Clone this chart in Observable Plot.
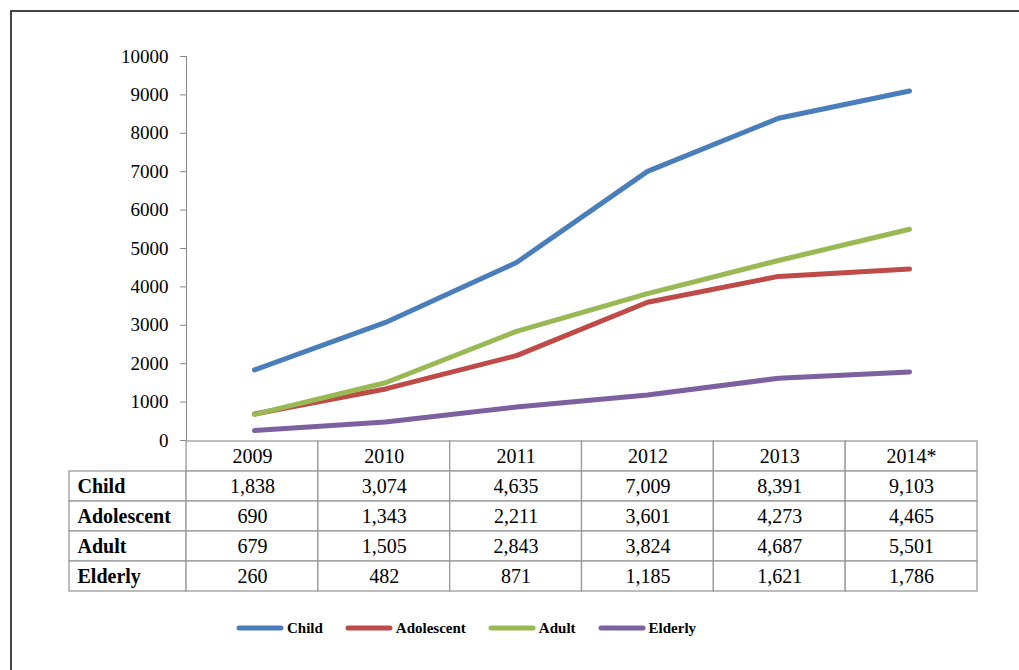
<!DOCTYPE html>
<html><head><meta charset="utf-8">
<script src="https://cdn.jsdelivr.net/npm/d3@7"></script>
<script src="https://cdn.jsdelivr.net/npm/@observablehq/plot@0.6"></script>
<style>
html,body{margin:0;padding:0;background:#fff;width:1019px;height:670px;overflow:hidden;position:relative;font-family:"Liberation Serif",serif;}
#frame{position:absolute;left:10px;top:10px;width:2000px;height:2000px;border-left:2px solid #444;border-top:2px solid #444;}
#chart{position:absolute;left:0;top:0;}
#table{position:absolute;left:0;top:430px;}
#legend{position:absolute;left:235px;top:618px;display:flex;align-items:center;font-weight:bold;font-size:15px;line-height:20px;color:#000;}
#legend .item{display:flex;align-items:center;margin-right:21px;}
#legend svg{margin-right:2px;}
</style></head><body>
<div id="frame"></div>
<div id="chart"></div><div id="table"></div><div id="legend"></div>
<script>
const years = ["2009", "2010", "2011", "2012", "2013", "2014*"];
const seriesNames = ["Child", "Adolescent", "Adult", "Elderly"];
const child = [1838, 3074, 4635, 7009, 8391, 9103];
const adolescent = [690, 1343, 2211, 3601, 4273, 4465];
const adult = [679, 1505, 2843, 3824, 4687, 5501];
const elderly = [260, 482, 871, 1185, 1621, 1786];
const yTicks = [0, 1000, 2000, 3000, 4000, 5000, 6000, 7000, 8000, 9000, 10000];
const colors = ["#4A7EBB", "#BE4B48", "#98B954", "#7D60A0"];

const values = {Child: child, Adolescent: adolescent, Adult: adult, Elderly: elderly};
const long = seriesNames.flatMap(s => years.map((yr, i) => ({series: s, year: yr, value: values[s][i]})));

const chart = Plot.plot({
  width: 1019, height: 450,
  marginTop: 56, marginBottom: 10, marginLeft: 186, marginRight: 42,
  style: {fontFamily: '"Liberation Serif", serif', fontSize: "19px", color: "#000", background: "transparent", overflow: "visible"},
  x: {type: "point", domain: years, padding: 0.5, axis: null},
  y: {domain: [0, 10000], axis: null},
  color: {domain: seriesNames, range: colors},
  marks: [
    Plot.frame({anchor: "left", stroke: "#868686"}),
    Plot.axisY({ticks: yTicks, label: null, tickSize: 6, tickPadding: 12, stroke: "#868686", fill: "#000", tickFormat: d => String(d), fontSize: 19}),
    Plot.line(long, {x: "year", y: "value", z: "series", stroke: "series", strokeWidth: 5, strokeLinecap: "round", strokeLinejoin: "round"})
  ]
});
document.getElementById("chart").append(chart);

const labelW = 0.888;
const rowKeys = ["", ...seriesNames];
const fmt = d3.format(",");
const cells = [
  ...years.map((yr, i) => ({row: "", x1: i, x2: i + 1, text: yr, label: false})),
  ...seriesNames.flatMap(s => [
    {row: s, x1: -labelW, x2: 0, text: s, label: true},
    ...years.map((yr, i) => ({row: s, x1: i, x2: i + 1, text: fmt(values[s][i]), label: false}))
  ])
];
const table = Plot.plot({
  width: 1019, height: 173,
  marginTop: 10, marginBottom: 10.5, marginLeft: 69, marginRight: 42,
  style: {fontFamily: '"Liberation Serif", serif', fontSize: "20px", color: "#000", background: "transparent", overflow: "visible"},
  x: {domain: [-labelW, years.length], axis: null},
  y: {type: "band", domain: rowKeys, padding: 0, axis: null},
  marks: [
    Plot.barX(cells, {x1: "x1", x2: "x2", y: "row", fill: "white", stroke: "#9a9a9a", strokeWidth: 1.3}),
    Plot.text(cells.filter(d => !d.label), {x: d => (d.x1 + d.x2) / 2, y: "row", text: "text", fontSize: 20, fill: "#000"}),
    Plot.text(cells.filter(d => d.label), {x: "x1", y: "row", text: "text", textAnchor: "start", dx: 8, fontWeight: "bold", fontSize: 20, fill: "#000"})
  ]
});
document.getElementById("table").append(table);

const legend = document.getElementById("legend");
seriesNames.forEach((s, i) => {
  const item = document.createElement("div");
  item.className = "item";
  item.innerHTML = `<svg width="50" height="10"><line x1="4" y1="5" x2="46" y2="5" stroke="${colors[i]}" stroke-width="5" stroke-linecap="round"/></svg><span>${s}</span>`;
  legend.append(item);
});
</script>
</body></html>
